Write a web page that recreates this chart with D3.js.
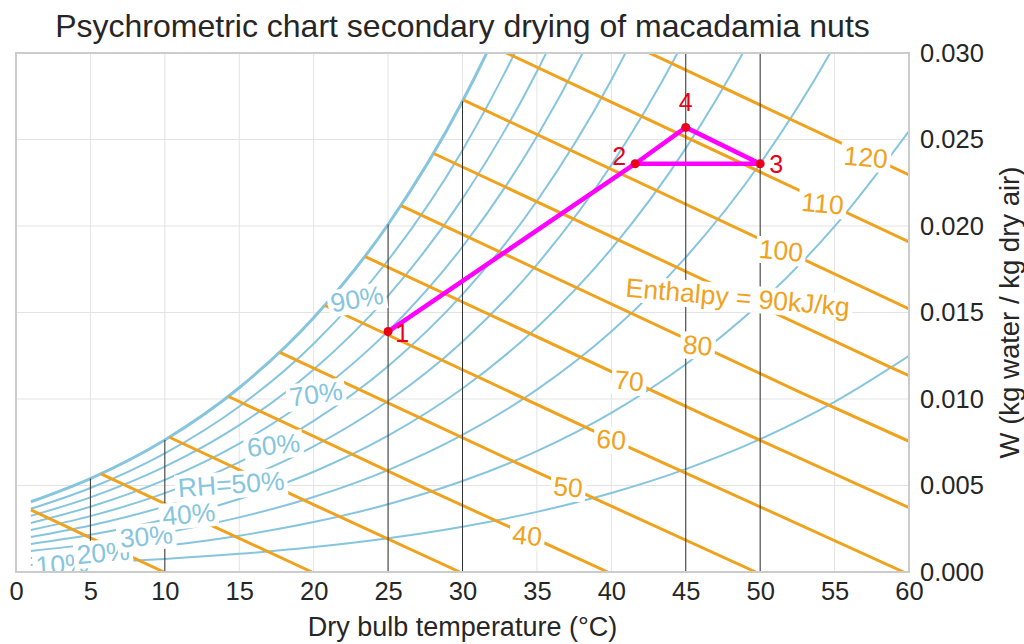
<!DOCTYPE html>
<html>
<head>
<meta charset="utf-8">
<script src="https://cdn.jsdelivr.net/npm/d3@7"></script>
<style>
  html, body { margin: 0; padding: 0; background: #fff; }
  svg { display: block; font-family: "Liberation Sans", Arial, sans-serif; }
</style>
</head>
<body>
<svg id="chart" width="1024" height="644"></svg>
<script>
// ---------------- data ----------------
const tempTicks = [0, 5, 10, 15, 20, 25, 30, 35, 40, 45, 50, 55, 60];
const wTicks = [0, 0.005, 0.010, 0.015, 0.020, 0.025, 0.030];

// saturation vapour pressure of water (kPa), steam-table values
const satTemps = [1, 5, 10, 15, 20, 25, 30, 35, 40, 45, 50, 55, 60];
const satPressure = [0.6571, 0.8725, 1.2282, 1.7057, 2.3392, 3.1698, 4.2469, 5.6290, 7.3849, 9.5950, 12.352, 15.763, 19.947];
const atmPressure = 101.325;

const rhLevels = [0.1, 0.2, 0.3, 0.4, 0.5, 0.6, 0.7, 0.8, 0.9, 1.0];
const enthalpyLevels = [10, 20, 30, 40, 50, 60, 70, 80, 90, 100, 110, 120];
const markerTemps = [5, 10, 25, 30, 45, 50];

// contour labels
const rhLabelText = ["10%", "20%", "30%", "40%", "RH=50%", "60%", "70%", "90%"];
const rhLabelLevel = [0.1, 0.2, 0.3, 0.4, 0.5, 0.6, 0.7, 0.9];
const rhLabelT = [3.1, 5.85, 8.75, 11.6, 14.45, 17.3, 20.15, 22.9];
const rhLabelAngle = [-4, -4.5, -5, -5, -4, -6, -8, -10];

const hLabelText = ["30", "40", "50", "60", "70", "80", "Enthalpy = 90kJ/kg", "100", "110", "120"];
const hLabelLevel = [30, 40, 50, 60, 70, 80, 90, 100, 110, 120];
const hLabelT = [31.3, 34.35, 37.1, 40.0, 41.2, 45.8, 48.5, 51.4, 54.2, 57.1];

// process states
const stateNames = ["1", "2", "3", "4"];
const stateT = [25.0, 41.6, 50.0, 45.0];
const stateW = [0.0139, 0.0236, 0.0236, 0.0257];
const processOrder = ["1", "2", "4", "3", "2"];

// ---------------- helpers ----------------
const svg = d3.select("#chart");
const x = d3.scaleLinear().domain([0, 60]).range([16, 909]);
const y = d3.scaleLinear().domain([0, 0.03]).range([572, 53]);

const psatInterp = d3.scaleLinear().domain(satTemps).range(satPressure.map(Math.log)).clamp(false);
const psat = T => Math.exp(psatInterp(T));
const humidity = (rh, T) => { const pw = rh * psat(T); return 0.622 * pw / (atmPressure - pw); };
const enthalpyW = (h, T) => (h - 1.006 * T) / (2501 + 1.86 * T);

const blue = "#86c5de", orange = "#f0a21c";

const defs = svg.append("defs");
defs.append("clipPath").attr("id", "plotclip").append("rect")
  .attr("x", x(0)).attr("y", y(0.03)).attr("width", x(60) - x(0)).attr("height", y(0) - y(0.03));

const plot = svg.append("g").attr("clip-path", "url(#plotclip)");

// grid
plot.append("g").selectAll("line").data(tempTicks).join("line")
  .attr("x1", d => x(d)).attr("x2", d => x(d)).attr("y1", y(0)).attr("y2", y(0.03))
  .attr("stroke", "#e3e3e3").attr("stroke-width", 1);
plot.append("g").selectAll("line").data(wTicks).join("line")
  .attr("x1", x(0)).attr("x2", x(60)).attr("y1", d => y(d)).attr("y2", d => y(d))
  .attr("stroke", "#e3e3e3").attr("stroke-width", 1);

// RH curves
const rhLine = d3.line().x(d => x(d[0])).y(d => y(d[1])).curve(d3.curveMonotoneX);
plot.append("g").selectAll("path").data(rhLevels).join("path")
  .attr("d", rh => rhLine(satTemps.map(T => [T, humidity(rh, T)])))
  .attr("fill", "none").attr("stroke", blue)
  .attr("stroke-width", rh => rh === 1 ? 3 : 2);

// enthalpy lines
function satTempForH(h) {
  let lo = 1, hi = 60;
  if (humidity(1, lo) - enthalpyW(h, lo) > 0) return lo;
  for (let i = 0; i < 60; i++) {
    const mid = (lo + hi) / 2;
    if (humidity(1, mid) - enthalpyW(h, mid) < 0) lo = mid; else hi = mid;
  }
  return (lo + hi) / 2;
}
const straight = d3.line().x(d => x(d[0])).y(d => y(d[1]));
plot.append("g").selectAll("path").data(enthalpyLevels).join("path")
  .attr("d", h => {
    const t0 = satTempForH(h), t1 = h / 1.006;
    return straight([[t0, enthalpyW(h, t0)], [(t0 + t1) / 2, enthalpyW(h, (t0 + t1) / 2)], [t1, 0]]);
  })
  .attr("fill", "none").attr("stroke", orange).attr("stroke-width", 3);

// black dry-bulb markers
plot.append("g").selectAll("line").data(markerTemps).join("line")
  .attr("x1", d => x(d)).attr("x2", d => x(d))
  .attr("y1", y(0)).attr("y2", d => y(Math.min(0.031, humidity(1, d))))
  .attr("stroke", "#333").attr("stroke-width", 1);

// labels with white boxes
function addLabel(g, text, px, py, angle, color) {
  const lg = g.append("g").attr("transform", `translate(${px},${py}) rotate(${angle})`);
  const rect = lg.append("rect").attr("fill", "#fff");
  const t = lg.append("text").text(text).attr("text-anchor", "middle")
    .attr("dy", "0.36em").attr("font-size", 26.5).attr("fill", color);
  const bb = t.node().getBBox();
  rect.attr("x", bb.x - 3).attr("y", bb.y + 2).attr("width", bb.width + 6).attr("height", bb.height - 3);
}
const labelG = plot.append("g");
hLabelText.forEach((txt, i) => {
  const T = hLabelT[i];
  addLabel(labelG, txt, x(T), y(enthalpyW(hLabelLevel[i], T)), 5, orange);
});
rhLabelText.forEach((txt, i) => {
  const T = rhLabelT[i];
  addLabel(labelG, txt, x(T), y(humidity(rhLabelLevel[i], T)), rhLabelAngle[i], blue);
});

// process line
const stateByName = new Map(stateNames.map((n, i) => [n, [stateT[i], stateW[i]]]));
svg.append("path")
  .attr("d", straight(processOrder.map(n => stateByName.get(n))))
  .attr("fill", "none").attr("stroke", "#ff00ff").attr("stroke-width", 4.5)
  .attr("stroke-linejoin", "round");
svg.append("g").selectAll("circle").data(stateNames).join("circle")
  .attr("cx", (d, i) => x(stateT[i])).attr("cy", (d, i) => y(stateW[i])).attr("r", 4.5)
  .attr("fill", "#e8001c");
const stateLabelDx = [14, -16, 16, 0];
const stateLabelDy = [10, 1, 9, -16];
svg.append("g").selectAll("text").data(stateNames).join("text")
  .attr("x", (d, i) => x(stateT[i]) + stateLabelDx[i])
  .attr("y", (d, i) => y(stateW[i]) + stateLabelDy[i])
  .attr("text-anchor", "middle").attr("font-size", 25).attr("fill", "#e8001c")
  .text(d => d);

// frame
svg.append("rect").attr("x", x(0)).attr("y", y(0.03))
  .attr("width", x(60) - x(0)).attr("height", y(0) - y(0.03))
  .attr("fill", "none").attr("stroke", "#cccccc").attr("stroke-width", 2);

// axes
const xAxis = svg.append("g").attr("transform", `translate(0,${y(0)})`)
  .call(d3.axisBottom(x).tickValues(tempTicks).tickSize(0).tickPadding(10).tickFormat(d3.format("d")));
xAxis.select(".domain").remove();
xAxis.selectAll("text").attr("font-size", 25.5).attr("fill", "#262626").attr("font-family", "Liberation Sans, Arial, sans-serif");

const yAxis = svg.append("g").attr("transform", `translate(${x(60)},0)`)
  .call(d3.axisRight(y).tickValues(wTicks).tickSize(0).tickPadding(11).tickFormat(d3.format(".3f")));
yAxis.select(".domain").remove();
yAxis.selectAll("text").attr("font-size", 25.5).attr("fill", "#262626").attr("font-family", "Liberation Sans, Arial, sans-serif");

// titles
svg.append("text").attr("x", (x(0) + x(60)) / 2).attr("y", 37).attr("text-anchor", "middle")
  .attr("font-size", 32).attr("fill", "#262626").text("Psychrometric chart secondary drying of macadamia nuts");
svg.append("text").attr("x", (x(0) + x(60)) / 2).attr("y", 636).attr("text-anchor", "middle")
  .attr("font-size", 27).attr("fill", "#262626").text("Dry bulb temperature (°C)");
svg.append("text").attr("transform", `translate(1019,${(y(0) + y(0.03)) / 2}) rotate(-90)`)
  .attr("text-anchor", "middle").attr("font-size", 27.5).attr("fill", "#262626")
  .text("W (kg water / kg dry air)");
</script>
</body>
</html>
